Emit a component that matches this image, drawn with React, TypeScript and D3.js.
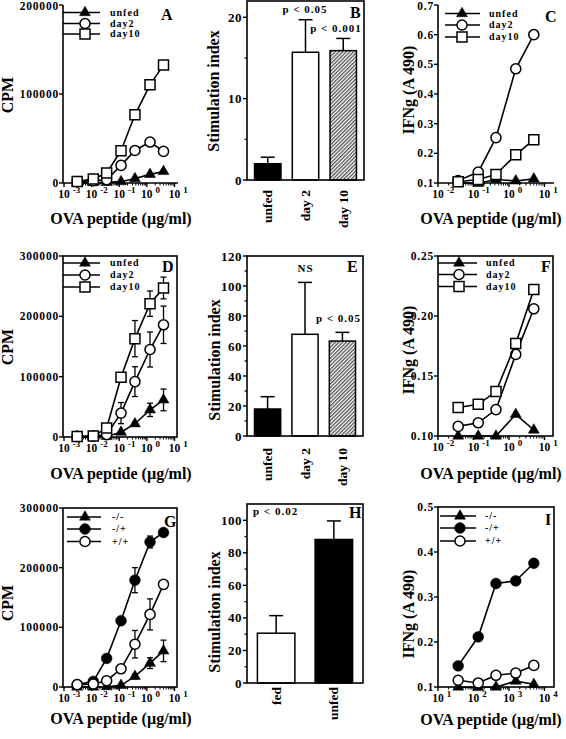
import React from 'react';
import * as d3 from 'd3';

const FONT = '"Liberation Serif","Times New Roman",Times,serif';

// ---------------- data ----------------
const dosesCPM = [0.003, 0.0115, 0.035, 0.116, 0.37, 1.3, 4.0];
const dosesIFN = [0.037, 0.136, 0.43, 1.55, 5.0];
const dosesIFN_I = [37, 136, 430, 1550, 5000];

const legendFeeding = ['unfed', 'day2', 'day10'];
const legendGenotype = ['-/-', '-/+', '+/+'];
const barCatsFeeding = ['unfed', 'day 2', 'day 10'];
const barCatsH = ['fed', 'unfed'];

// A
const cpmA_unfed = [300, 500, 700, 1500, 5000, 9700, 13000];
const cpmA_day2 = [1500, 2500, 3700, 19800, 36600, 46000, 35500];
const cpmA_day10 = [1800, 4500, 11200, 36300, 76600, 110300, 132700];
// B
const siB = [2.0, 15.7, 15.9];
const siB_err = [0.8, 4.0, 1.5];
// C
const ifnC_unfed = [0.1, 0.099, 0.112, 0.107, 0.114];
const ifnC_day2 = [0.108, 0.137, 0.253, 0.485, 0.6];
const ifnC_day10 = [0.104, 0.112, 0.129, 0.195, 0.246];
// D
const cpmD_unfed = [500, 500, 1000, 8000, 22000, 45000, 61500];
const cpmD_unfed_err = [0, 0, 0, 0, 3000, 11000, 18000];
const cpmD_day2 = [1000, 1500, 4000, 39600, 91800, 145000, 186000];
const cpmD_day2_err = [0, 0, 0, 17500, 24700, 29000, 31000];
const cpmD_day10 = [1000, 1500, 15000, 99000, 163000, 221000, 247000];
const cpmD_day10_err = [0, 0, 0, 3000, 30000, 21000, 18000];
// E
const siE = [18, 67.8, 63.3];
const siE_err = [8.2, 34.6, 5.8];
// F
const ifnF_unfed = [0.1, 0.1, 0.1, 0.118, 0.105];
const ifnF_day2 = [0.108, 0.111, 0.122, 0.168, 0.206];
const ifnF_day10 = [0.1237, 0.1264, 0.137, 0.177, 0.222];
// G
const cpmG_mm = [0, 0, 500, 2800, 17800, 40000, 60500];
const cpmG_mm_err = [0, 0, 0, 0, 4000, 9000, 18000];
const cpmG_mp = [4000, 9400, 48000, 111000, 179000, 243000, 259000];
const cpmG_mp_err = [0, 0, 0, 5000, 21000, 10000, 0];
const cpmG_pp = [4000, 5000, 10500, 30500, 71700, 121700, 172000];
const cpmG_pp_err = [0, 0, 0, 0, 23000, 26000, 0];
// H
const siH = [30.6, 88.2];
const siH_err = [10.8, 11.4];
// I
const ifnI_mm = [0.1, 0.099, 0.1, 0.113, 0.106];
const ifnI_mp = [0.147, 0.2115, 0.33, 0.336, 0.375];
const ifnI_pp = [0.115, 0.109, 0.126, 0.131, 0.148];

// ticks
const yTicksA = [0, 100000, 200000];
const yTicksDG = [0, 100000, 200000, 300000];
const yTicksB = [0, 10, 20];
const yMinorB = [5, 15];
const yTicksE = [0, 20, 40, 60, 80, 100, 120];
const yMinorE = [10, 30, 50, 70, 90, 110];
const yTicksH = [0, 20, 40, 60, 80, 100];
const yMinorH = [10, 30, 50, 70, 90];
const yTicksC = [0.1, 0.2, 0.3, 0.4, 0.5, 0.6, 0.7];
const yTicksF = [0.1, 0.15, 0.2, 0.25];
const yTicksI = [0.1, 0.2, 0.3, 0.4, 0.5];

// ---------------- helpers ----------------
type MarkerType = 'tri' | 'circle' | 'dot' | 'square';
type Series = { values: number[]; err?: number[]; marker: MarkerType };

const symFor: Record<MarkerType, string> = {
  tri: d3.symbol().type(d3.symbolTriangle).size(52)() as string,
  circle: d3.symbol().type(d3.symbolCircle).size(80)() as string,
  dot: d3.symbol().type(d3.symbolCircle).size(92)() as string,
  square: d3.symbol().type(d3.symbolSquare).size(100)() as string,
};

function Marker({ type, x, y }: { type: MarkerType; x: number; y: number }) {
  const filled = type === 'tri' || type === 'dot';
  return (
    <path
      d={symFor[type]}
      transform={`translate(${x},${y})`}
      fill={filled ? '#000' : '#fff'}
      stroke="#000"
      strokeWidth={filled ? 0.5 : 1.5}
    />
  );
}

type LP = {
  doses: number[];
  series: Series[];
  legendNames: string[];
  xExp: [number, number];
  xRange: [number, number];
  xAxisEnd: number;
  left: number;
  yDomain: [number, number];
  yRange: [number, number];
  yTicks: number[];
  yFmt: (v: number) => string;
  box: boolean;
  legend: { x0: number; x1: number; mx: number; tx: number; ys: number[] };
  letter: string;
  letterPos: [number, number];
  xLabelX: number;
  xLabelY: number;
  yLabel: string;
  yLabelX: number;
  yLabelY: number;
};

function LinePanel(p: LP) {
  const x = d3.scaleLog().domain([10 ** p.xExp[0], 10 ** p.xExp[1]]).range(p.xRange);
  const y = d3.scaleLinear().domain(p.yDomain).range(p.yRange);
  const yb = p.yRange[0];
  const yt = p.yRange[1];
  const line = d3
    .line<number>()
    .x((_, i) => x(p.doses[i]))
    .y((v) => y(v));
  const majors = d3.range(p.xExp[0], p.xExp[1] + 1);
  const minors: number[] = [];
  for (let k = p.xExp[0]; k < p.xExp[1]; k++) for (let m = 2; m <= 9; m++) minors.push(m * 10 ** k);

  return (
    <g fontFamily={FONT} fontWeight="bold">
      {p.box ? (
        <rect x={p.left} y={yt} width={p.xAxisEnd - p.left} height={yb - yt} fill="none" stroke="#000" strokeWidth={1.6} />
      ) : (
        <g stroke="#000" strokeWidth={1.6}>
          <line x1={p.left} y1={yt} x2={p.left} y2={yb} />
          <line x1={p.left} y1={yb} x2={p.xAxisEnd} y2={yb} />
        </g>
      )}
      {p.yTicks.map((t) => (
        <g key={t}>
          <line x1={p.left - 4} x2={p.left} y1={y(t)} y2={y(t)} stroke="#000" strokeWidth={1.4} />
          <text x={p.left - 4} y={Math.max(y(t), 6)} dy="0.35em" textAnchor="end" fontSize={11.5} letterSpacing={0.8}>
            {p.yFmt(t)}
          </text>
        </g>
      ))}
      {minors.map((m) => (
        <line key={m} x1={x(m)} x2={x(m)} y1={yb} y2={yb + 2.5} stroke="#000" strokeWidth={1} />
      ))}
      {majors.map((k) => (
        <g key={k}>
          <line x1={x(10 ** k)} x2={x(10 ** k)} y1={yb} y2={yb + 4} stroke="#000" strokeWidth={1.4} />
          <text x={x(10 ** k) - 5.8} y={yb + 15} fontSize={11.5}>
            10
            <tspan dx={3} dy={-5} fontSize={9}>
              {k}
            </tspan>
          </text>
        </g>
      ))}
      {p.series.map((s, si) => (
        <g key={si}>
          <path d={line(s.values) as string} fill="none" stroke="#000" strokeWidth={1.6} />
          {s.err &&
            s.values.map((v, i) =>
              s.err![i] > 0 ? (
                <g key={i} stroke="#000" strokeWidth={1.3}>
                  <line x1={x(p.doses[i])} x2={x(p.doses[i])} y1={y(v - s.err![i])} y2={y(v + s.err![i])} />
                  <line x1={x(p.doses[i]) - 3} x2={x(p.doses[i]) + 3} y1={y(v + s.err![i])} y2={y(v + s.err![i])} />
                  <line x1={x(p.doses[i]) - 3} x2={x(p.doses[i]) + 3} y1={y(v - s.err![i])} y2={y(v - s.err![i])} />
                </g>
              ) : null
            )}
          {s.values.map((v, i) => (
            <Marker key={i} type={s.marker} x={x(p.doses[i])} y={y(v)} />
          ))}
        </g>
      ))}
      {p.series.map((s, si) => (
        <g key={'l' + si}>
          <line x1={p.legend.x0} x2={p.legend.x1} y1={p.legend.ys[si]} y2={p.legend.ys[si]} stroke="#000" strokeWidth={1.6} />
          <Marker type={s.marker} x={p.legend.mx} y={p.legend.ys[si]} />
          <text x={p.legend.tx} y={p.legend.ys[si]} dy="0.32em" fontSize={10} letterSpacing={1}>
            {p.legendNames[si]}
          </text>
        </g>
      ))}
      <text x={p.letterPos[0]} y={p.letterPos[1]} fontSize={16}>
        {p.letter}
      </text>
      <text x={p.xLabelX} y={p.xLabelY} textAnchor="middle" fontSize={16}>
        OVA peptide (µg/ml)
      </text>
      <text transform={`translate(${p.yLabelX},${p.yLabelY}) rotate(-90)`} textAnchor="middle" fontSize={16}>
        {p.yLabel}
      </text>
    </g>
  );
}

type BP = {
  cats: string[];
  values: number[];
  errs: number[];
  fills: string[];
  left: number;
  right: number;
  top: number;
  bottom: number;
  padIn: number;
  padOut: number;
  yDomain: [number, number];
  yTicks: number[];
  yMinor: number[];
  letter: string;
  letterPos: [number, number];
  catLabelTop: number;
  yLabelX: number;
  yLabelY: number;
  notes: { text: string; x: number; y: number; anchor: string }[];
};

function BarPanel(p: BP) {
  const x = d3.scaleBand().domain(p.cats).range([p.left, p.right]).paddingInner(p.padIn).paddingOuter(p.padOut);
  const y = d3.scaleLinear().domain(p.yDomain).range([p.bottom, p.top]);
  return (
    <g fontFamily={FONT} fontWeight="bold">
      {p.cats.map((c, i) => {
        const bx = x(c)!;
        const bw = x.bandwidth();
        const cx = bx + bw / 2;
        const ty = y(p.values[i]);
        const ey = y(p.values[i] + p.errs[i]);
        return (
          <g key={c}>
            <line x1={cx} x2={cx} y1={ty} y2={ey} stroke="#000" strokeWidth={1.5} />
            <line x1={cx - 7} x2={cx + 7} y1={ey} y2={ey} stroke="#000" strokeWidth={1.5} />
            <rect x={bx} y={ty} width={bw} height={p.bottom - ty} fill={p.fills[i]} stroke="#000" strokeWidth={1.5} />
            <text transform={`translate(${cx + 4.5},${p.catLabelTop}) rotate(-90)`} textAnchor="end" fontSize={13.5}>
              {c}
            </text>
          </g>
        );
      })}
      <rect x={p.left} y={p.top} width={p.right - p.left} height={p.bottom - p.top} fill="none" stroke="#000" strokeWidth={1.6} />
      {p.yTicks.map((t) => (
        <g key={t}>
          <line x1={p.left - 4} x2={p.left} y1={y(t)} y2={y(t)} stroke="#000" strokeWidth={1.4} />
          <text x={p.left - 5} y={y(t)} dy="0.35em" textAnchor="end" fontSize={13} letterSpacing={0.5}>
            {t}
          </text>
        </g>
      ))}
      {p.yMinor.map((t) => (
        <line key={t} x1={p.left - 2.5} x2={p.left} y1={y(t)} y2={y(t)} stroke="#000" strokeWidth={1.2} />
      ))}
      {p.notes.map((n, i) => (
        <text key={i} x={n.x} y={n.y} textAnchor={n.anchor as any} fontSize={11} letterSpacing={1}>
          {n.text}
        </text>
      ))}
      <text x={p.letterPos[0]} y={p.letterPos[1]} fontSize={16}>
        {p.letter}
      </text>
      <text transform={`translate(${p.yLabelX},${p.yLabelY}) rotate(-90)`} textAnchor="middle" fontSize={16}>
        Stimulation index
      </text>
    </g>
  );
}

const fmtCPM = (v: number) => String(v);
const fmt1 = d3.format('.1f');
const fmt2 = d3.format('.2f');

export default function App() {
  return (
    <svg width={566} height={739} style={{ position: 'absolute', left: 0, top: 0, background: '#fff' }}>
      <defs>
        <pattern id="hatch" patternUnits="userSpaceOnUse" width={2.6} height={2.6} patternTransform="rotate(45)">
          <rect width={2.6} height={2.6} fill="#fff" />
          <line x1={0.7} y1={0} x2={0.7} y2={2.6} stroke="#333" strokeWidth={1.1} />
        </pattern>
      </defs>
      <rect width={566} height={739} fill="#fff" />

      {/* A */}
      <LinePanel
        doses={dosesCPM}
        series={[
          { values: cpmA_unfed, marker: 'tri' },
          { values: cpmA_day2, marker: 'circle' },
          { values: cpmA_day10, marker: 'square' },
        ]}
        legendNames={legendFeeding}
        xExp={[-3, 1]}
        xRange={[64, 174.5]}
        xAxisEnd={178}
        left={63}
        yDomain={[0, 200000]}
        yRange={[183, 5]}
        yTicks={yTicksA}
        yFmt={fmtCPM}
        box={false}
        legend={{ x0: 63, x1: 100, mx: 85, tx: 110, ys: [12.5, 23.5, 34] }}
        letter="A"
        letterPos={[161, 20]}
        xLabelX={121}
        xLabelY={224}
        yLabel="CPM"
        yLabelX={13}
        yLabelY={95}
      />
      {/* B */}
      <BarPanel
        cats={barCatsFeeding}
        values={siB}
        errs={siB_err}
        fills={['#000', '#fff', 'url(#hatch)']}
        left={247}
        right={364}
        top={1}
        bottom={180}
        padIn={0.3}
        padOut={0.2}
        yDomain={[0, 22]}
        yTicks={yTicksB}
        yMinor={yMinorB}
        letter="B"
        letterPos={[350, 18]}
        catLabelTop={190}
        yLabelX={219}
        yLabelY={91}
        notes={[
          { text: 'p < 0.05', x: 305, y: 13, anchor: 'middle' },
          { text: 'p < 0.001', x: 336, y: 31.5, anchor: 'middle' },
        ]}
      />
      {/* C */}
      <LinePanel
        doses={dosesIFN}
        series={[
          { values: ifnC_unfed, marker: 'tri' },
          { values: ifnC_day2, marker: 'circle' },
          { values: ifnC_day10, marker: 'square' },
        ]}
        legendNames={legendFeeding}
        xExp={[-2, 1]}
        xRange={[438, 544.5]}
        xAxisEnd={554}
        left={438}
        yDomain={[0.1, 0.7]}
        yRange={[183, 5]}
        yTicks={yTicksC}
        yFmt={fmt1}
        box={false}
        legend={{ x0: 445, x1: 480, mx: 462, tx: 489, ys: [13.5, 25, 37] }}
        letter="C"
        letterPos={[545, 22]}
        xLabelX={491}
        xLabelY={224}
        yLabel="IFNg (A 490)"
        yLabelX={414}
        yLabelY={90}
      />
      {/* D */}
      <LinePanel
        doses={dosesCPM}
        series={[
          { values: cpmD_unfed, err: cpmD_unfed_err, marker: 'tri' },
          { values: cpmD_day2, err: cpmD_day2_err, marker: 'circle' },
          { values: cpmD_day10, err: cpmD_day10_err, marker: 'square' },
        ]}
        legendNames={legendFeeding}
        xExp={[-3, 1]}
        xRange={[64, 174.5]}
        xAxisEnd={177}
        left={63}
        yDomain={[0, 300000]}
        yRange={[437, 256]}
        yTicks={yTicksDG}
        yFmt={fmtCPM}
        box={true}
        legend={{ x0: 63, x1: 100, mx: 85, tx: 110, ys: [263, 275, 287] }}
        letter="D"
        letterPos={[162, 272]}
        xLabelX={121}
        xLabelY={479}
        yLabel="CPM"
        yLabelX={13}
        yLabelY={347}
      />
      {/* E */}
      <BarPanel
        cats={barCatsFeeding}
        values={siE}
        errs={siE_err}
        fills={['#000', '#fff', 'url(#hatch)']}
        left={247}
        right={363}
        top={256}
        bottom={436}
        padIn={0.3}
        padOut={0.2}
        yDomain={[0, 120]}
        yTicks={yTicksE}
        yMinor={yMinorE}
        letter="E"
        letterPos={[347, 272]}
        catLabelTop={448}
        yLabelX={220}
        yLabelY={360}
        notes={[
          { text: 'NS', x: 305.5, y: 272, anchor: 'middle' },
          { text: 'p < 0.05', x: 338.5, y: 321.5, anchor: 'middle' },
        ]}
      />
      {/* F */}
      <LinePanel
        doses={dosesIFN}
        series={[
          { values: ifnF_unfed, marker: 'tri' },
          { values: ifnF_day2, marker: 'circle' },
          { values: ifnF_day10, marker: 'square' },
        ]}
        legendNames={legendFeeding}
        xExp={[-2, 1]}
        xRange={[438, 544.5]}
        xAxisEnd={553}
        left={438}
        yDomain={[0.1, 0.25]}
        yRange={[436, 256]}
        yTicks={yTicksF}
        yFmt={fmt2}
        box={true}
        legend={{ x0: 438, x1: 477, mx: 459, tx: 486, ys: [263, 274.5, 286.5] }}
        letter="F"
        letterPos={[541, 272]}
        xLabelX={491}
        xLabelY={479}
        yLabel="IFNg (A 490)"
        yLabelX={414}
        yLabelY={350}
      />
      {/* G */}
      <LinePanel
        doses={dosesCPM}
        series={[
          { values: cpmG_mm, err: cpmG_mm_err, marker: 'tri' },
          { values: cpmG_mp, err: cpmG_mp_err, marker: 'dot' },
          { values: cpmG_pp, err: cpmG_pp_err, marker: 'circle' },
        ]}
        legendNames={legendGenotype}
        xExp={[-3, 1]}
        xRange={[64, 174.5]}
        xAxisEnd={177}
        left={63}
        yDomain={[0, 300000]}
        yRange={[687, 508]}
        yTicks={yTicksDG}
        yFmt={fmtCPM}
        box={true}
        legend={{ x0: 67, x1: 101, mx: 85, tx: 112, ys: [517, 529, 541.5] }}
        letter="G"
        letterPos={[164, 527]}
        xLabelX={121}
        xLabelY={724}
        yLabel="CPM"
        yLabelX={13}
        yLabelY={603}
      />
      {/* H */}
      <BarPanel
        cats={barCatsH}
        values={siH}
        errs={siH_err}
        fills={['#fff', '#000']}
        left={247}
        right={363}
        top={504}
        bottom={683}
        padIn={0.35}
        padOut={0.18}
        yDomain={[0, 110]}
        yTicks={yTicksH}
        yMinor={yMinorH}
        letter="H"
        letterPos={[349, 518]}
        catLabelTop={687}
        yLabelX={220}
        yLabelY={612}
        notes={[{ text: 'p < 0.02', x: 253, y: 515, anchor: 'start' }]}
      />
      {/* I */}
      <LinePanel
        doses={dosesIFN_I}
        series={[
          { values: ifnI_mm, marker: 'tri' },
          { values: ifnI_mp, marker: 'dot' },
          { values: ifnI_pp, marker: 'circle' },
        ]}
        legendNames={legendGenotype}
        xExp={[1, 4]}
        xRange={[438, 544.5]}
        xAxisEnd={554}
        left={438}
        yDomain={[0.1, 0.5]}
        yRange={[687, 507]}
        yTicks={yTicksI}
        yFmt={fmt1}
        box={true}
        legend={{ x0: 440, x1: 476, mx: 460, tx: 485, ys: [516, 528, 541] }}
        letter="I"
        letterPos={[545, 525]}
        xLabelX={491}
        xLabelY={725}
        yLabel="IFNg (A 490)"
        yLabelX={414}
        yLabelY={614}
      />
    </svg>
  );
}
